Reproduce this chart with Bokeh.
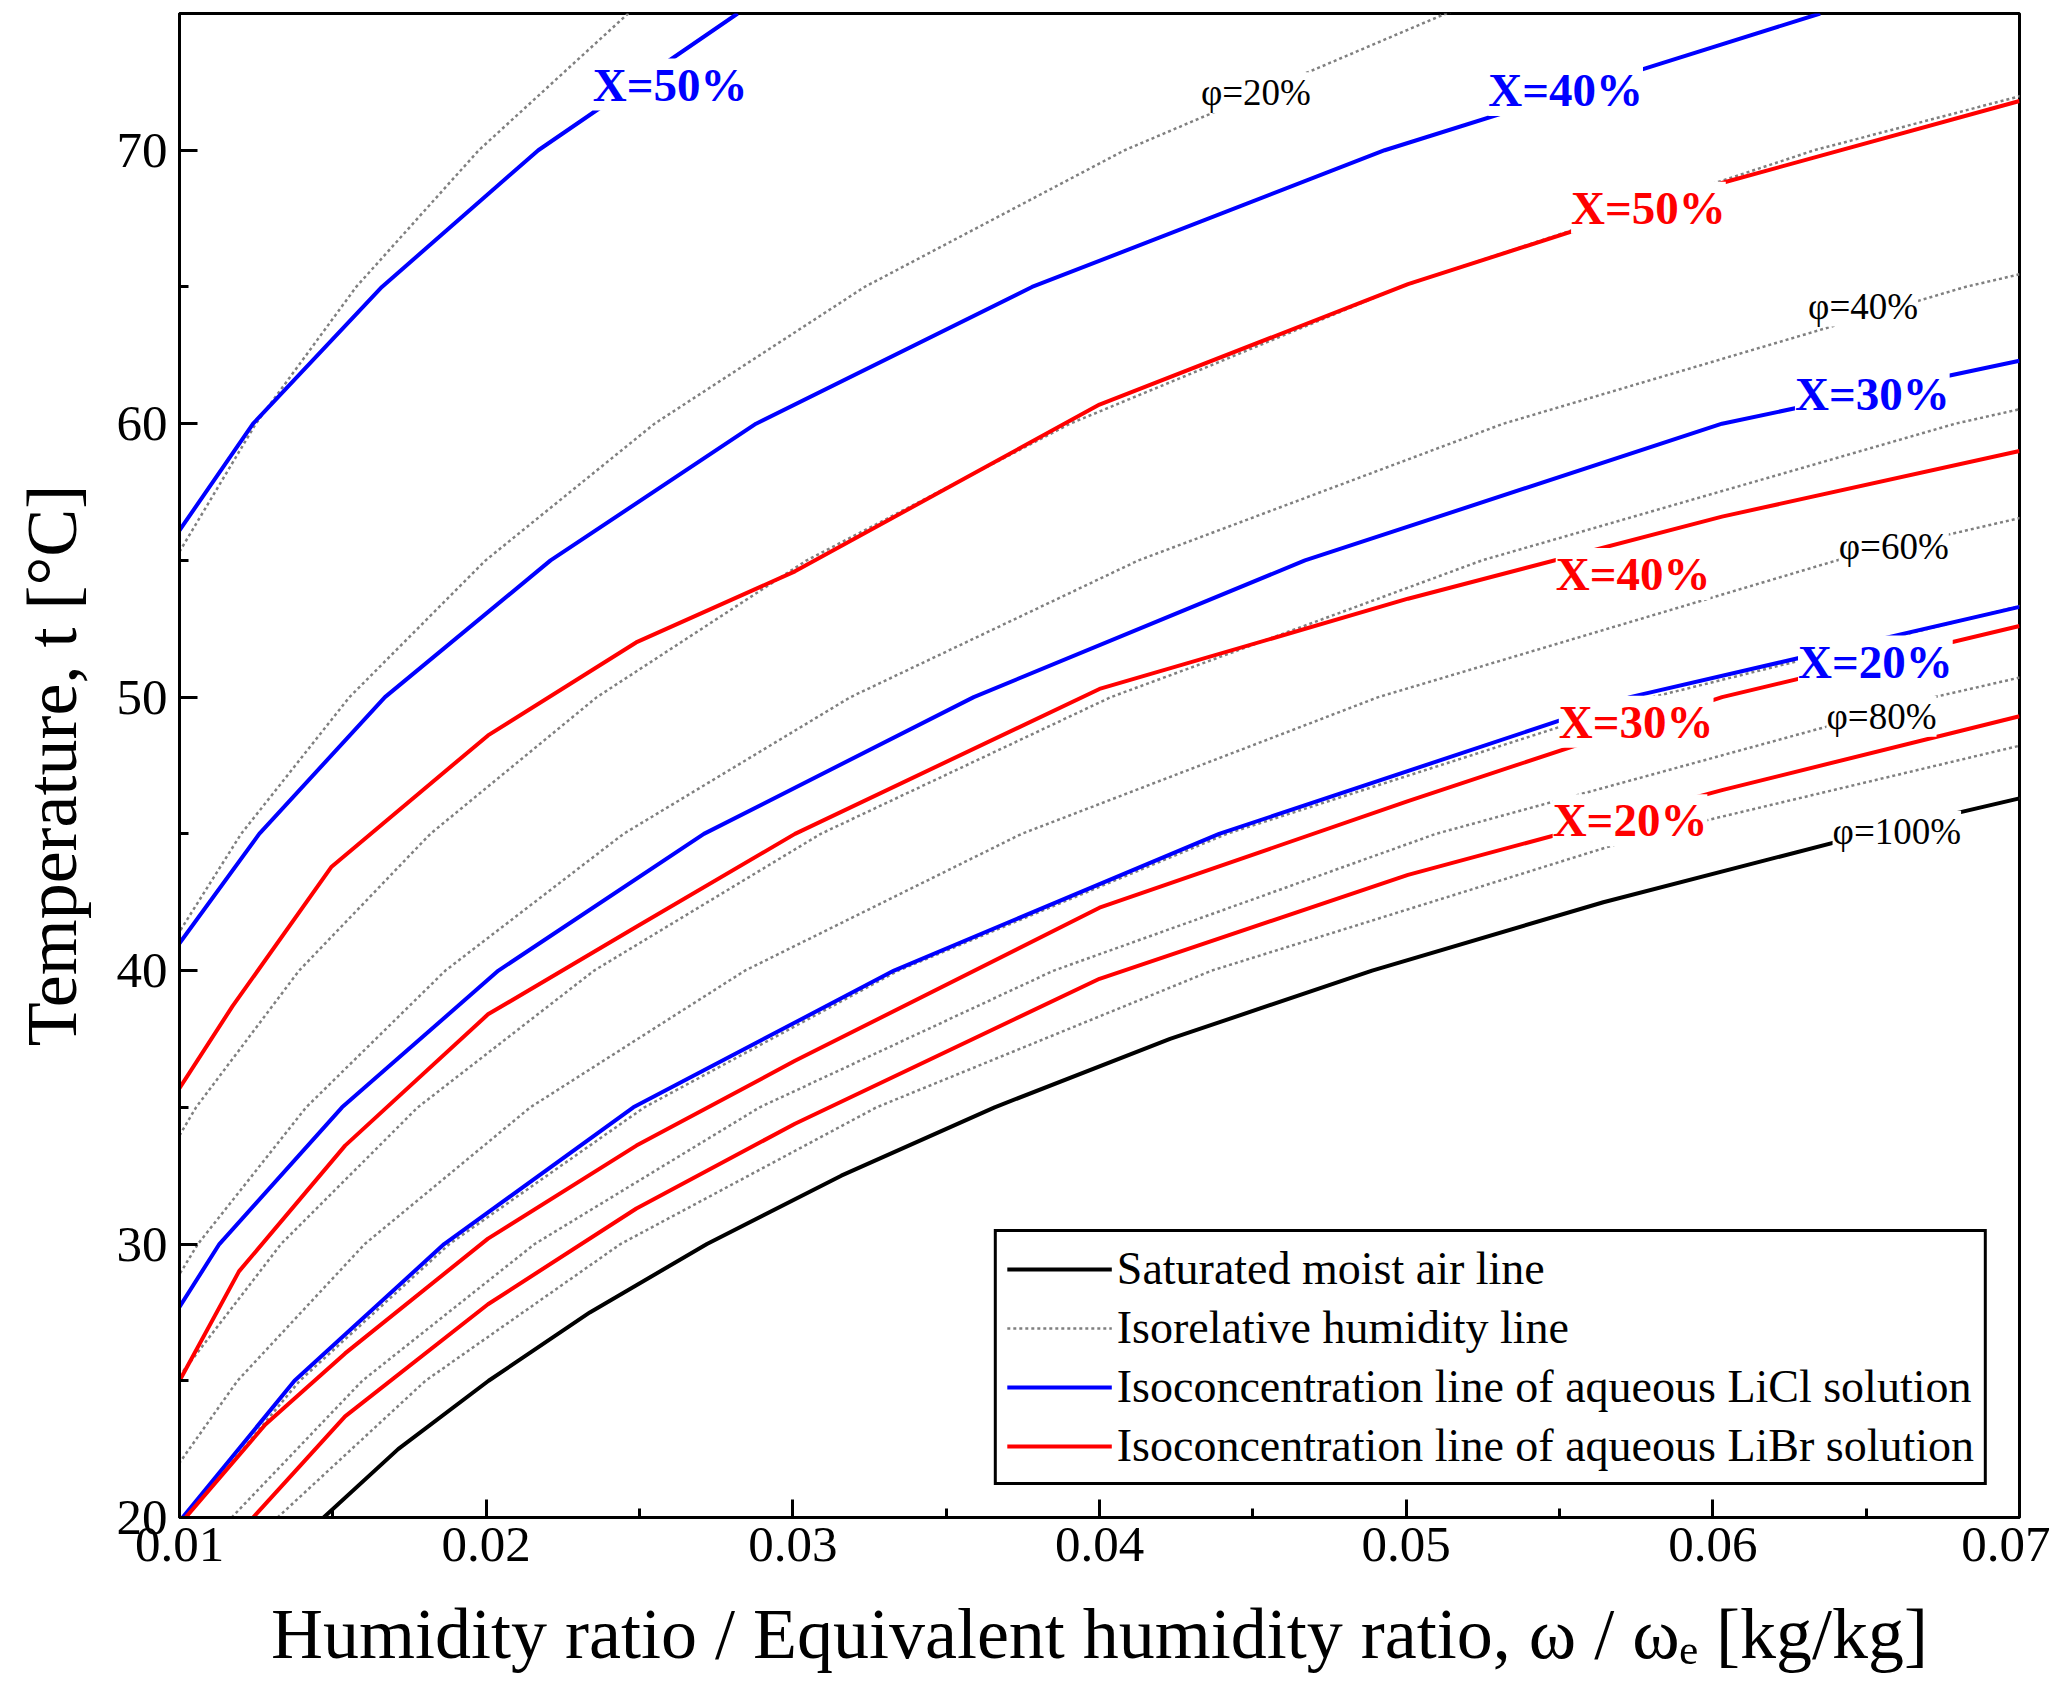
from bokeh.plotting import figure
from bokeh.models import Range1d, Legend, LegendItem, FixedTicker
from bokeh.embed import file_html
from bokeh.resources import INLINE
from bokeh.core.properties import value

# Saturated moist air line
sat_t = [20, 22.5, 25, 27.5, 30, 32.5, 35, 37.5, 40, 42.5, 45, 47]
sat_w = [0.01470, 0.01713, 0.02008, 0.02338, 0.02720, 0.03158, 0.03658, 0.04230, 0.04889, 0.05643, 0.06505, 0.07267]

# Isorelative humidity lines (phi): omega at given temperatures
phi_lines = {
    100: ([20, 22.5, 25, 27.5, 30, 32.5, 35, 37.5, 40, 42.5, 45, 47],
          [0.01470, 0.01713, 0.02008, 0.02338, 0.02720, 0.03158, 0.03658, 0.04230, 0.04889, 0.05643, 0.06505, 0.07267]),
    90: ([20, 25, 30, 35, 40, 45, 50], [0.01320, 0.01802, 0.02438, 0.03273, 0.04366, 0.05794, 0.07665]),
    80: ([20, 25, 30, 35, 40, 45, 50, 52], [0.01170, 0.01596, 0.02158, 0.02892, 0.03851, 0.05097, 0.06722, 0.0750]),
    70: ([20, 25, 30, 35, 40, 45, 50, 55], [0.01021, 0.01392, 0.01880, 0.02516, 0.03344, 0.04415, 0.05803, 0.07601]),
    60: ([20, 25, 30, 35, 40, 45, 50, 55, 60], [0.00874, 0.01189, 0.01604, 0.02144, 0.02844, 0.03746, 0.04909, 0.06404, 0.08331]),
    50: ([25, 30, 35, 40, 45, 50, 55, 60, 65], [0.00988, 0.01331, 0.01777, 0.02352, 0.03091, 0.04037, 0.05247, 0.06791, 0.08769]),
    40: ([25, 30, 35, 40, 45, 50, 55, 60, 65, 70], [0.00788, 0.01060, 0.01413, 0.01867, 0.02448, 0.03188, 0.04127, 0.05317, 0.06823, 0.08738]),
    30: ([30, 35, 40, 45, 50, 55, 60, 65, 70, 75], [0.00792, 0.01054, 0.01390, 0.01818, 0.02361, 0.03045, 0.03904, 0.04981, 0.06331, 0.08026]),
    20: ([40, 45, 50, 55, 60, 65, 70, 75, 80], [0.00920, 0.01201, 0.01554, 0.01998, 0.02549, 0.03234, 0.04082, 0.05130, 0.06421]),
    10: ([50, 55, 60, 65, 70, 75, 80], [0.00768, 0.00983, 0.01249, 0.01576, 0.01976, 0.02463, 0.03053]),
}

# LiCl isoconcentration lines
licl = {
    50: ([56.1, 60, 65, 70, 75], [0.0100, 0.0124, 0.0166, 0.0217, 0.0282]),
    40: ([41, 45, 50, 55, 60, 65, 70, 75], [0.0100, 0.0126, 0.0167, 0.0221, 0.0288, 0.0378, 0.0493, 0.0635]),
    30: ([27.7, 30, 35, 40, 45, 50, 55, 60, 62.3], [0.0100, 0.0113, 0.0153, 0.0204, 0.0271, 0.0359, 0.0467, 0.0603, 0.0700]),
    20: ([20, 25, 30, 35, 40, 45, 50, 53.3], [0.0101, 0.01375, 0.01863, 0.0248, 0.0333, 0.0439, 0.0573, 0.0700]),
}
# LiBr isoconcentration lines (omega grid, temperature)
libr_w = {
    50: [0.0100, 0.01173, 0.01496, 0.02006, 0.02489, 0.03007, 0.0400, 0.05006, 0.06029, 0.0700],
    40: [0.0100, 0.01194, 0.0154, 0.02006, 0.0249, 0.03007, 0.0400, 0.05006, 0.0603, 0.0700],
    30: [0.0102, 0.0128, 0.0154, 0.02006, 0.0249, 0.03007, 0.0400, 0.05006, 0.0603, 0.0700],
    20: [0.0124, 0.0154, 0.02006, 0.0249, 0.03007, 0.0400, 0.05006, 0.0603, 0.0700],
}
libr_t = {
    50: [35.7, 38.7, 43.8, 48.6, 52.0, 54.6, 60.7, 65.1, 68.8, 71.8],
    40: [25.0, 29.0, 33.6, 38.4, 41.6, 45.0, 50.3, 53.6, 56.6, 59.0],
    30: [20.0, 23.4, 26.0, 30.2, 33.6, 36.7, 42.3, 46.2, 50.0, 52.6],
    20: [20.0, 23.7, 27.8, 31.3, 34.4, 39.7, 43.5, 46.6, 49.3],
}

licl_lab_w = [0.0260, 0.0552, 0.0652, 0.0653]
licl_lab_t = [72.4, 72.2, 61.1, 51.3]
licl_lab_s = ["X=50%", "X=40%", "X=30%", "X=20%"]
libr_lab_w = [0.0579, 0.0574, 0.0575, 0.0573]
libr_lab_t = [67.9, 54.5, 49.1, 45.5]
libr_lab_s = ["X=50%", "X=40%", "X=30%", "X=20%"]
phi_lab_w = [0.0451, 0.0649, 0.0659, 0.0655, 0.0660]
phi_lab_t = [72.1, 64.3, 55.5, 49.3, 45.1]
phi_lab_s = ["φ=20%", "φ=40%", "φ=60%", "φ=80%", "φ=100%"]

FONT = "Liberation Serif"

p = figure(width=2050, height=1688, output_backend="svg", toolbar_location=None,
           x_range=Range1d(0.01, 0.07), y_range=Range1d(20, 75),
           min_border_left=179, min_border_right=31, min_border_top=13, min_border_bottom=171)
p.xgrid.visible = False
p.ygrid.visible = False
p.outline_line_color = "black"
p.outline_line_alpha = 1
p.outline_line_width = 3

r_phi = None
for k, (t, w) in phi_lines.items():
    r_phi = p.line(w, t, line_color="#808080", line_width=2.5, line_dash="3 3")
r_sat = p.line(sat_w, sat_t, line_color="black", line_width=4)
r_licl = None
for k, (t, w) in licl.items():
    r_licl = p.line(w, t, line_color="#0000ff", line_width=4)
r_libr = None
for k in libr_w:
    r_libr = p.line(libr_w[k], libr_t[k], line_color="#ff0000", line_width=4)

p.text(licl_lab_w, licl_lab_t, text=licl_lab_s, text_color="#0000ff", text_font=value(FONT),
       text_font_size="47px", text_font_style="bold", text_align="center", text_baseline="middle",
       background_fill_color="white")
p.text(libr_lab_w, libr_lab_t, text=libr_lab_s, text_color="#ff0000", text_font=value(FONT),
       text_font_size="47px", text_font_style="bold", text_align="center", text_baseline="middle",
       background_fill_color="white")
p.text(phi_lab_w, phi_lab_t, text=phi_lab_s, text_color="black", text_font=value(FONT),
       text_font_size="37px", text_align="center", text_baseline="middle",
       background_fill_color="white")

for ax in (p.xaxis[0], p.yaxis[0]):
    ax.axis_line_width = 3
    ax.major_tick_in = 18
    ax.major_tick_out = 0
    ax.minor_tick_in = 9
    ax.minor_tick_out = 0
    ax.major_tick_line_width = 3
    ax.minor_tick_line_width = 3
    ax.major_label_text_font = FONT
    ax.major_label_text_font_size = "51px"
    ax.major_label_text_color = "black"
    ax.axis_label_text_font = FONT
    ax.axis_label_text_font_size = "72px"
    ax.axis_label_text_font_style = "normal"
    ax.axis_label_text_color = "black"

p.xaxis.ticker = FixedTicker(ticks=[0.01, 0.02, 0.03, 0.04, 0.05, 0.06, 0.07],
                             minor_ticks=[0.015, 0.025, 0.035, 0.045, 0.055, 0.065])
p.yaxis.ticker = FixedTicker(ticks=[20, 30, 40, 50, 60, 70], minor_ticks=[25, 35, 45, 55, 65, 75])
p.xaxis.axis_label = "Humidity ratio / Equivalent humidity ratio, ω / ωₑ [kg/kg]"
p.yaxis.axis_label = "Temperature, t [°C]"
p.xaxis.major_label_standoff = 10
p.yaxis.major_label_standoff = 12
p.xaxis.axis_label_standoff = 30
p.yaxis.axis_label_standoff = 22

legend = Legend(items=[
    LegendItem(label="Saturated moist air line", renderers=[r_sat]),
    LegendItem(label="Isorelative humidity line", renderers=[r_phi]),
    LegendItem(label="Isoconcentration line of aqueous LiCl solution", renderers=[r_licl]),
    LegendItem(label="Isoconcentration line of aqueous LiBr solution", renderers=[r_libr]),
], location="bottom_right")
legend.label_text_font = FONT
legend.label_text_font_size = "46px"
legend.label_text_color = "black"
legend.border_line_color = "black"
legend.border_line_alpha = 1
legend.border_line_width = 3
legend.glyph_width = 105
legend.glyph_height = 52
legend.spacing = 6
legend.margin = 32
legend.padding = 10
p.add_layout(legend)

open("out.html", "w").write(file_html(p, INLINE))
